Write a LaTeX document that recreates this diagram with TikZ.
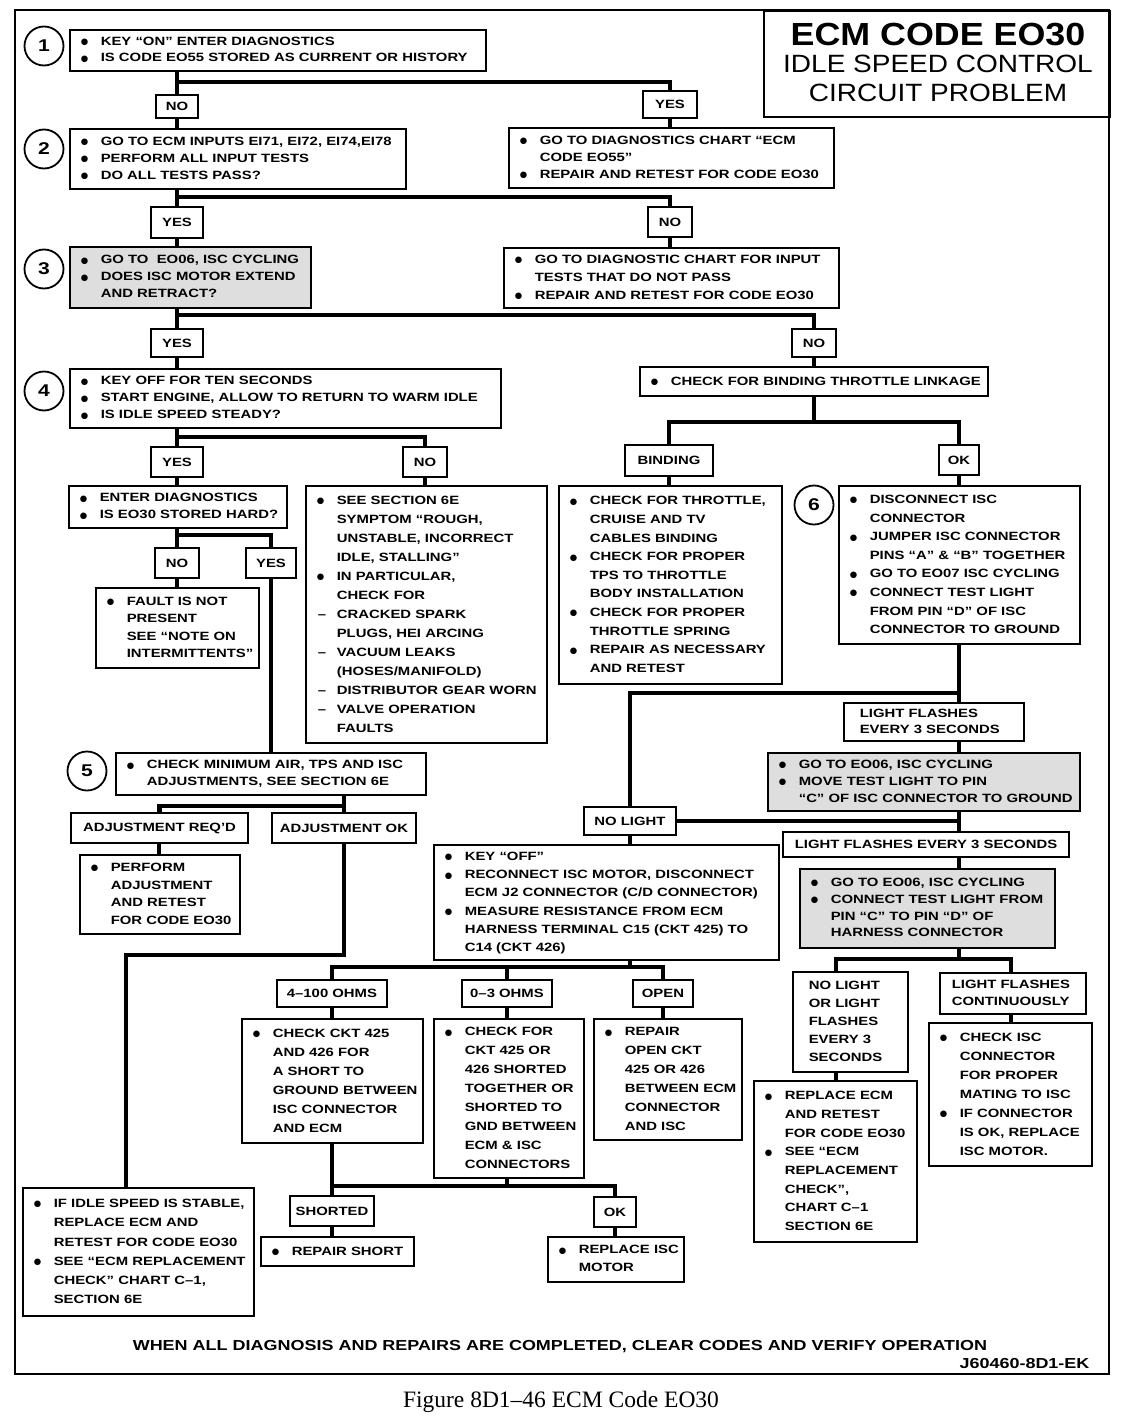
\documentclass[tikz,border=0pt]{standalone}
\usepackage{fontspec}
\setmainfont{Liberation Sans}[FakeStretch=1.24]
\newfontfamily\titlef{Liberation Sans}[FakeStretch=1.12]
\newfontfamily\symf{DejaVu Sans}
\newfontfamily\capf{Liberation Serif}
\newcommand\B{\makebox[22pt][l]{\hspace{2pt}\raisebox{0.6pt}{\fontsize{8.5}{8.5}\symf ●}}}
\newcommand\I{\hspace*{22pt}}
\newcommand\D{\makebox[22pt][l]{\hspace{3pt}–}}
\newcommand\bxpad{9}
\tikzset{
  box/.style={draw, line width=1.6pt, fill=white, inner ysep=0pt, font=\fontsize{12}{18.6}\selectfont\bfseries},
  ls/.style={font=\fontsize{12}{#1}\selectfont\bfseries},
  shade/.style={fill=black!13},
  lab/.style={draw, line width=1.6pt, fill=white, inner sep=0pt, align=left, font=\fontsize{12}{16.5}\selectfont\bfseries},
  num/.style={draw, circle, line width=1.8pt, inner sep=0pt, minimum size=39pt, font=\fontsize{17}{17}\selectfont\bfseries},
  conn/.style={line width=4.6pt},
  frame/.style={line width=2.4pt},
}
\newcommand\bx[7][]{%
  \pgfmathsetmacro\bxw{#5-#3}%
  \pgfmathsetmacro\bxh{#6-#4}%
  \pgfmathsetmacro\bxt{#5-#3-2*\bxpad}%
  \node[box, anchor=north west, minimum width=\bxw pt, minimum height=\bxh pt, inner xsep=\bxpad pt, #1] (#2) at (#3,#4)
    {\makebox[\bxt pt][l]{\begin{tabular}{@{}l@{}}#7\end{tabular}}};}
\newcommand\lb[7][]{%
  \pgfmathsetmacro\bxw{#5-#3}%
  \pgfmathsetmacro\bxh{#6-#4}%
  \node[lab, minimum width=\bxw pt, minimum height=\bxh pt, #1] (#2) at ({(#3+#5)/2},{(#4+#6)/2}) {#7};}
\begin{document}
\begin{tikzpicture}[x=1pt,y=-1pt]
\useasboundingbox (0,0) rectangle (1136,1424);
\fill[white] (0,0) rectangle (1136,1424);
% frame and title
\draw[frame] (15,10) rectangle (1109,1374);
\node[draw, line width=2.4pt, anchor=north west, minimum width=346pt, minimum height=106pt, inner sep=0pt] (title) at (763,10) {};
\node[font=\titlef\bfseries\fontsize{32}{32}\selectfont] (t1) at (938,35) {ECM CODE EO30};
\node[font=\titlef\fontsize{25}{25}\selectfont] (t2) at (938,64) {IDLE SPEED CONTROL};
\node[font=\titlef\fontsize{25}{25}\selectfont] (t3) at (938,93) {CIRCUIT PROBLEM};
% x positions of the vertical runs
\coordinate (xa) at (177,0);
\coordinate (xb) at (670,0);
\coordinate (xc) at (814,0);
\coordinate (xd) at (425,0);
\coordinate (xe) at (669,0);
\coordinate (xf) at (959,0);
\coordinate (xg) at (271,0);
\coordinate (xh) at (344,0);
\coordinate (xi) at (159,0);
\coordinate (xk) at (630,0);
\coordinate (xl) at (332,0);
\coordinate (xm) at (507,0);
\coordinate (xn) at (663,0);
\coordinate (xo) at (615,0);
\coordinate (xp) at (836,0);
\coordinate (xq) at (1011,0);
% circles
\node[num] (c1) at (44,46) {1};
\node[num] (c2) at (44,149) {2};
\node[num] (c3) at (44,269) {3};
\node[num] (c4) at (44,391) {4};
\node[num] (c5) at (87,771) {5};
\node[num] (c6) at (814,505) {6};
% boxes
\bx[ls=16.5]{b1}{69}{29}{485}{70}{\B KEY ``ON'' ENTER DIAGNOSTICS\\ \B IS CODE EO55 STORED AS CURRENT OR HISTORY}
\lb{no1}{156}{95}{198}{118}{NO}
\lb{yes1}{643}{91}{697}{118}{YES}
\bx[ls=17]{b2}{69}{128}{405}{188}{\B GO TO ECM INPUTS EI71, EI72, EI74,EI78\\ \B PERFORM ALL INPUT TESTS\\ \B DO ALL TESTS PASS?}
\bx[ls=17]{byes1}{508}{127}{833}{187}{\B GO TO DIAGNOSTICS CHART ``ECM\\ \I CODE EO55''\\ \B REPAIR AND RETEST FOR CODE EO30}
\lb{yes2}{151}{207}{203}{238}{YES}
\lb{no2}{648}{207}{692}{237}{NO}
\bx[ls=17,shade]{b3}{69}{246}{310}{307}{\B GO TO \ EO06, ISC CYCLING\\ \B DOES ISC MOTOR EXTEND\\ \I AND RETRACT?}
\bx[ls=18]{bno2}{503}{247}{838}{307}{\B GO TO DIAGNOSTIC CHART FOR INPUT\\ \I TESTS THAT DO NOT PASS\\ \B REPAIR AND RETEST FOR CODE EO30}
\lb{yes3}{151}{329}{203}{357}{YES}
\lb{no3}{792}{329}{836}{357}{NO}
\bx[ls=17]{b4}{69}{368}{500}{427}{\B KEY OFF FOR TEN SECONDS\\ \B START ENGINE, ALLOW TO RETURN TO WARM IDLE\\ \B IS IDLE SPEED STEADY?}
\bx{bbind}{639}{366}{987}{395}{\B CHECK FOR BINDING THROTTLE LINKAGE}
\lb{yes4}{151}{447}{203}{477}{YES}
\lb{no4}{403}{447}{447}{477}{NO}
\lb{binding}{625}{445}{713}{476}{BINDING}
\lb{ok1}{939}{445}{979}{475}{OK}
\bx[ls=17]{bent}{68}{485}{286}{527}{\B ENTER DIAGNOSTICS\\ \B IS EO30 STORED HARD?}
\bx[ls=19]{bsee}{305}{485}{546}{742}{\B SEE SECTION 6E\\ \I SYMPTOM ``ROUGH,\\ \I UNSTABLE, INCORRECT\\ \I IDLE, STALLING''\\ \B IN PARTICULAR,\\ \I CHECK FOR\\ \D CRACKED SPARK\\ \I PLUGS, HEI ARCING\\ \D VACUUM LEAKS\\ \I (HOSES/MANIFOLD)\\ \D DISTRIBUTOR GEAR WORN\\ \D VALVE OPERATION\\ \I FAULTS}
\bx[ls=18.6]{bbindc}{558}{485}{781}{683}{\B CHECK FOR THROTTLE,\\ \I CRUISE AND TV\\ \I CABLES BINDING\\ \B CHECK FOR PROPER\\ \I TPS TO THROTTLE\\ \I BODY INSTALLATION\\ \B CHECK FOR PROPER\\ \I THROTTLE SPRING\\ \B REPAIR AS NECESSARY\\ \I AND RETEST}
\bx[ls=18.6]{b6}{838}{485}{1079}{643}{\B DISCONNECT ISC\\ \I CONNECTOR\\ \B JUMPER ISC CONNECTOR\\ \I PINS ``A'' \& ``B'' TOGETHER\\ \B GO TO EO07 ISC CYCLING\\ \B CONNECT TEST LIGHT\\ \I FROM PIN ``D'' OF ISC\\ \I CONNECTOR TO GROUND}
\lb{no5}{155}{548}{199}{578}{NO}
\lb{yes5}{246}{548}{296}{578}{YES}
\bx[ls=17.5,inner xsep=5pt]{bfault}{95}{587}{258}{667}{\B FAULT IS NOT\\ \I PRESENT\\ \I SEE ``NOTE ON\\ \I INTERMITTENTS''}
\bx[ls=16,inner xsep=16pt]{lf1}{843}{702}{1009}{740}{LIGHT FLASHES\\ EVERY 3 SECONDS}
\bx[ls=17,shade,inner xsep=7pt]{bmove}{767}{752}{1079}{810}{\B GO TO EO06, ISC CYCLING\\ \B MOVE TEST LIGHT TO PIN\\ \I ``C'' OF ISC CONNECTOR TO GROUND}
\bx[ls=17]{b5}{115}{752}{425}{794}{\B CHECK MINIMUM AIR, TPS AND ISC\\ \I ADJUSTMENTS, SEE SECTION 6E}
\lb{adjreq}{71}{813}{248}{843}{ADJUSTMENT REQ'D}
\lb{adjok}{272}{813}{416}{843}{ADJUSTMENT OK}
\lb{nolight}{584}{807}{676}{835}{NO LIGHT}
\lb{lf2}{783}{832}{1069}{857}{LIGHT FLASHES EVERY 3 SECONDS}
\bx[ls=17.5]{bperf}{79}{854}{239}{933}{\B PERFORM\\ \I ADJUSTMENT\\ \I AND RETEST\\ \I FOR CODE EO30}
\bx[ls=18.2]{bkey}{433}{844}{778}{959}{\B KEY ``OFF''\\ \B RECONNECT ISC MOTOR, DISCONNECT\\ \I ECM J2 CONNECTOR (C/D CONNECTOR)\\ \B MEASURE RESISTANCE FROM ECM\\ \I HARNESS TERMINAL C15 (CKT 425) TO\\ \I C14 (CKT 426)}
\bx[ls=16.8,shade]{bconn}{799}{868}{1054}{947}{\B GO TO EO06, ISC CYCLING\\ \B CONNECT TEST LIGHT FROM\\ \I PIN ``C'' TO PIN ``D'' OF\\ \I HARNESS CONNECTOR}
\bx[ls=18,inner xsep=16pt]{bnl}{792}{971}{893}{1071}{NO LIGHT\\ OR LIGHT\\ FLASHES\\ EVERY 3\\ SECONDS}
\bx[ls=17,inner xsep=12pt]{blfc}{939}{972}{1079}{1013}{LIGHT FLASHES\\ CONTINUOUSLY}
\lb{ohm4}{277}{980}{387}{1007}{4–100 OHMS}
\lb{ohm0}{462}{980}{552}{1007}{0–3 OHMS}
\lb{open}{633}{980}{693}{1007}{OPEN}
\bx[ls=19]{bck}{241}{1018}{422}{1142}{\B CHECK CKT 425\\ \I AND 426 FOR\\ \I A SHORT TO\\ \I GROUND BETWEEN\\ \I ISC CONNECTOR\\ \I AND ECM}
\bx[ls=19,inner xsep=7pt]{b03}{433}{1018}{583}{1177}{\B CHECK FOR\\ \I CKT 425 OR\\ \I 426 SHORTED\\ \I TOGETHER OR\\ \I SHORTED TO\\ \I GND BETWEEN\\ \I ECM \& ISC\\ \I CONNECTORS}
\bx[ls=19]{bopen}{593}{1018}{741}{1139}{\B REPAIR\\ \I OPEN CKT\\ \I 425 OR 426\\ \I BETWEEN ECM\\ \I CONNECTOR\\ \I AND ISC}
\bx[ls=19]{bcheckisc}{928}{1022}{1091}{1165}{\B CHECK ISC\\ \I CONNECTOR\\ \I FOR PROPER\\ \I MATING TO ISC\\ \B IF CONNECTOR\\ \I IS OK, REPLACE\\ \I ISC MOTOR.}
\bx[ls=18.7]{breplecm}{753}{1080}{916}{1241}{\B REPLACE ECM\\ \I AND RETEST\\ \I FOR CODE EO30\\ \B SEE ``ECM\\ \I REPLACEMENT\\ \I CHECK'',\\ \I CHART C–1\\ \I SECTION 6E}
\lb{shorted}{290}{1196}{374}{1226}{SHORTED}
\lb{ok2}{594}{1197}{636}{1227}{OK}
\bx{brs}{260}{1236}{413}{1265}{\B REPAIR SHORT}
\bx[ls=18]{brim}{547}{1236}{683}{1281}{\B REPLACE ISC\\ \I MOTOR}
\bx[ls=19.3]{bidle}{22}{1187}{253}{1315}{\B IF IDLE SPEED IS STABLE,\\ \I REPLACE ECM AND\\ \I RETEST FOR CODE EO30\\ \B SEE ``ECM REPLACEMENT\\ \I CHECK'' CHART C–1,\\ \I SECTION 6E}
% footer
\node[font=\fontsize{14.5}{14.5}\selectfont\bfseries] (note) at (560,1347) {WHEN ALL DIAGNOSIS AND REPAIRS ARE COMPLETED, CLEAR CODES AND VERIFY OPERATION};
\node[anchor=east, font=\fontsize{14.5}{14.5}\selectfont\bfseries] (code) at (1093,1363) {J60460-8D1-EK};
\node[font=\capf\fontsize{23.5}{23.5}\selectfont] (cap) at (561,1402) {Figure 8D1–46 ECM Code EO30};
% junctions
\coordinate (j1) at (177,82);
\coordinate (j2) at (177,197);
\coordinate (j3) at (177,315);
\coordinate (j4) at (177,437);
\coordinate (j5) at (814,422);
\coordinate (j6) at (177,535);
\coordinate (j7) at (344,806);
\coordinate (j8) at (126,955);
\coordinate (j9) at (959,693);
\coordinate (j11) at (630,967);
\coordinate (j12) at (959,959);
\coordinate (j13) at (507,1186);
% connectors
\draw[conn] (b1.south -| xa) -- (no1.north -| xa);
\draw[conn] (j1) -| (yes1.north);
\draw[conn] (no1.south -| xa) -- (b2.north -| xa);
\draw[conn] (yes1.south -| xb) -- (byes1.north -| xb);
\draw[conn] (b2.south -| xa) -- (yes2.north -| xa);
\draw[conn] (j2) -| (no2.north);
\draw[conn] (yes2.south -| xa) -- (b3.north -| xa);
\draw[conn] (no2.south -| xb) -- (bno2.north -| xb);
\draw[conn] (b3.south -| xa) -- (yes3.north -| xa);
\draw[conn] (j3) -| (no3.north);
\draw[conn] (yes3.south -| xa) -- (b4.north -| xa);
\draw[conn] (no3.south -| xc) -- (bbind.north -| xc);
\draw[conn] (b4.south -| xa) -- (yes4.north -| xa);
\draw[conn] (j4) -| (no4.north);
\draw[conn] (yes4.south -| xa) -- (bent.north -| xa);
\draw[conn] (no4.south -| xd) -- (bsee.north -| xd);
\draw[conn] (bbind.south -| xc) -- (j5);
\draw[conn] (binding.north) |- (j5) -| (ok1.north);
\draw[conn] (binding.south -| xe) -- (bbindc.north -| xe);
\draw[conn] (ok1.south -| xf) -- (b6.north -| xf);
\draw[conn] (bent.south -| xa) -- (no5.north -| xa);
\draw[conn] (j6) -| (yes5.north);
\draw[conn] (no5.south -| xa) -- (bfault.north -| xa);
\draw[conn] (yes5.south -| xg) -- (b5.north -| xg);
\draw[conn] (b5.south -| xh) -- (adjok.north -| xh);
\draw[conn] (j7) -| (adjreq.north);
\draw[conn] (adjreq.south -| xi) -- (bperf.north -| xi);
\draw[conn] (adjok.south -| xh) |- (j8) -- (bidle.north -| j8);
\draw[conn] (b6.south -| xf) -- (lf1.north -| xf);
\draw[conn] (j9) -| (nolight.north);
\draw[conn] (lf1.south -| xf) -- (bmove.north -| xf);
\draw[conn] (bmove.south -| xf) -- (lf2.north -| xf);
\draw[conn] (nolight.east) -- (nolight.east -| xf);
\draw[conn] (lf2.south -| xf) -- (bconn.north -| xf);
\draw[conn] (nolight.south -| xk) -- (bkey.north -| xk);
\draw[conn] (bkey.south -| xk) -- (j11);
\draw[conn] (ohm4.north) |- (j11) -| (open.north);
\draw[conn] (ohm0.north) -- (ohm0.north |- j11);
\draw[conn] (ohm4.south -| xl) -- (bck.north -| xl);
\draw[conn] (ohm0.south -| xm) -- (b03.north -| xm);
\draw[conn] (open.south -| xn) -- (bopen.north -| xn);
\draw[conn] (bck.south -| xl) -- (shorted.north -| xl);
\draw[conn] (b03.south -| xm) -- (j13);
\draw[conn] (xl |- j13) -| (ok2.north);
\draw[conn] (shorted.south -| xl) -- (brs.north -| xl);
\draw[conn] (ok2.south -| xo) -- (brim.north -| xo);
\draw[conn] (bconn.south -| xf) -- (j12);
\draw[conn] (bnl.north -| xp) |- (j12) -| (blfc.north -| xq);
\draw[conn] (bnl.south -| xp) -- (breplecm.north -| xp);
\draw[conn] (blfc.south -| xq) -- (bcheckisc.north -| xq);
\end{tikzpicture}
\end{document}
